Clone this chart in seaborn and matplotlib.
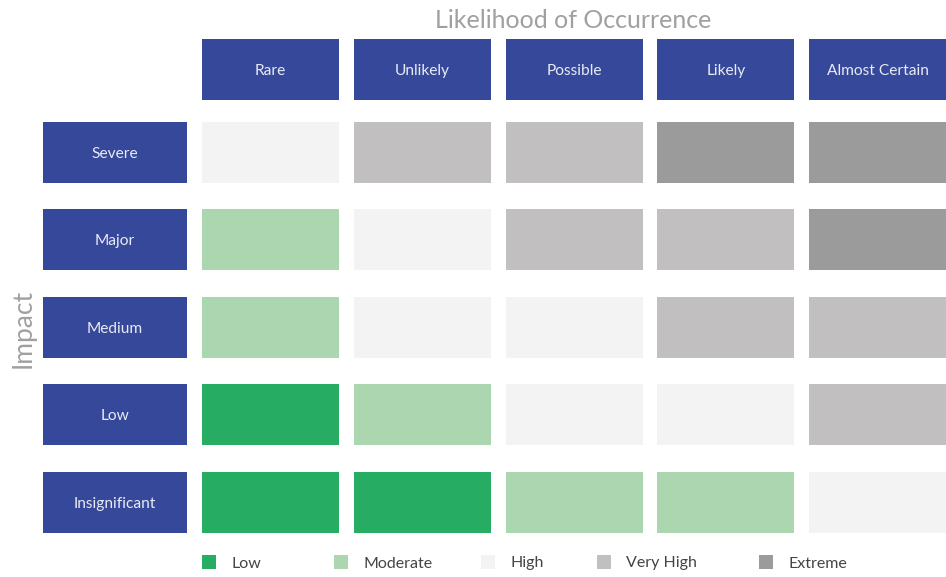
import matplotlib
matplotlib.use("Agg")
import matplotlib.pyplot as plt
import seaborn as sns
import numpy as np

# Axis categories
likelihood = ["Rare", "Unlikely", "Possible", "Likely", "Almost Certain"]
impact = ["Severe", "Major", "Medium", "Low", "Insignificant"]

# Risk level names and their colours
levels = ["Low", "Moderate", "High", "Very High", "Extreme"]
level_colors = ["#27ac64", "#acd6b0", "#f3f3f3", "#c1bfbf", "#9b9b9b"]

# Risk level index per impact row (top to bottom) and likelihood column
risk_severe = [2, 3, 3, 4, 4]
risk_major = [1, 2, 3, 3, 4]
risk_medium = [1, 2, 2, 3, 3]
risk_low = [0, 1, 2, 2, 3]
risk_insignificant = [0, 0, 1, 1, 2]

risk = np.array([risk_severe, risk_major, risk_medium, risk_low, risk_insignificant])

sns.set_theme(style="white")
plt.rcParams["font.family"] = ["Lato", "DejaVu Sans"]

NAVY = "#35489a"
palette = sns.color_palette(level_colors)

fig = plt.figure(figsize=(9.46, 5.77), dpi=100)
ax = fig.add_axes([0, 0, 1, 1])
ax.set_xlim(0, 946)
ax.set_ylim(577, 0)
ax.axis("off")

# grid geometry (pixel-like units)
col_x0, col_pitch, cell_w = 202, 151.75, 137
row_y0, row_pitch, cell_h = 122, 87.4, 61
head_y0, head_h = 39, 61
lab_x0, lab_w = 43, 144

col_centers = [col_x0 + i * col_pitch + cell_w / 2 for i in range(len(likelihood))]
row_centers = [row_y0 + j * row_pitch + cell_h / 2 for j in range(len(impact))]

# column headers
ax.bar(col_centers, head_h, width=cell_w, bottom=head_y0, color=NAVY, linewidth=0)
for xc, name in zip(col_centers, likelihood):
    ax.text(xc, head_y0 + head_h / 2 + 1.5, name, ha="center", va="center",
            color="#e8eaf4", fontsize=11.2)

# row headers
ax.barh(row_centers, lab_w, height=cell_h, left=lab_x0, color=NAVY, linewidth=0)
for yc, name in zip(row_centers, impact):
    ax.text(lab_x0 + lab_w / 2, yc + 1.5, name, ha="center", va="center",
            color="#e8eaf4", fontsize=11.2)

# risk cells
for j, yc in enumerate(row_centers):
    ax.barh([yc] * len(col_centers), cell_w, height=cell_h,
            left=[x - cell_w / 2 for x in col_centers],
            color=[palette[k] for k in risk[j]], linewidth=0)

# axis titles
ax.text(573, 21, "Likelihood of Occurrence", ha="center", va="center",
        color="#a0a0a0", fontsize=18)
ax.text(23, 328, "Impact", ha="center", va="center", rotation=90,
        color="#a0a0a0", fontsize=19)

# legend
legend_sq = [202, 334, 481, 597, 759]
sq = 14
ax.bar([x + sq / 2 for x in legend_sq], sq, width=sq, bottom=555,
       color=palette, linewidth=0)
for x, name in zip(legend_sq, levels):
    ax.text(x + 29, 563.5, name, ha="left", va="center", color="#444444",
            fontsize=11.5)

fig.savefig("out.png", dpi=100)
